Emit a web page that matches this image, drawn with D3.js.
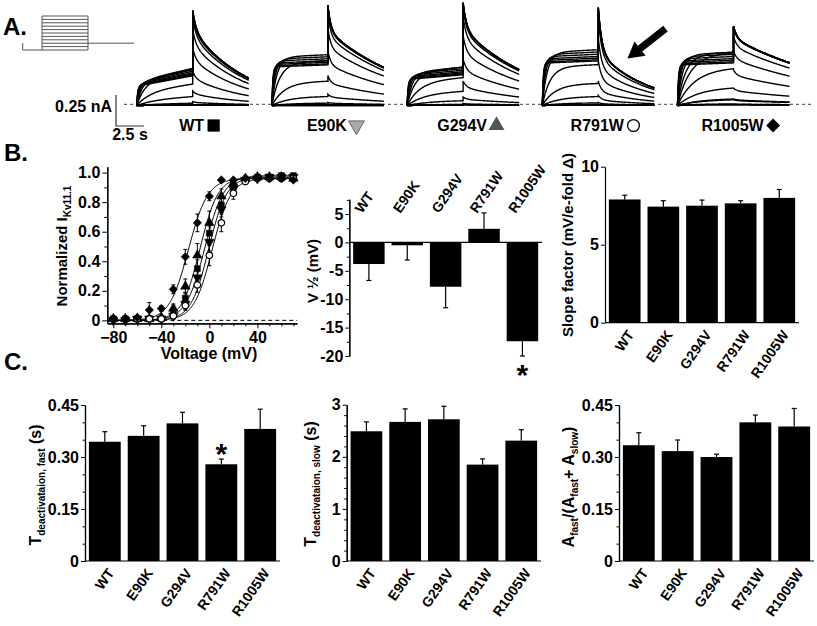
<!DOCTYPE html>
<html><head><meta charset="utf-8">
<script src="https://cdn.jsdelivr.net/npm/d3@7"></script>
<style>
body{margin:0;background:#fff}
svg{display:block;font-family:"Liberation Sans",Arial,Helvetica,sans-serif;font-weight:bold}
</style></head><body>
<svg id="c" width="817" height="626"></svg>
<script>
// ---------------- DATA ----------------
const groups = ["WT","E90K","G294V","R791W","R1005W"];
const volts = [-80,-70,-60,-50,-40,-30,-20,-10,0,10,20,30,40,50,60,70];
const actWT    = [0.01,0.01,0.01,0.01,0.01,0.04,0.15,0.35,0.59,0.78,0.90,0.95,0.97,0.97,0.98,0.98];
const actE90K  = [0.00,0.00,0.01,0.01,0.01,0.03,0.11,0.29,0.53,0.75,0.89,0.95,0.96,0.97,0.97,0.97];
const actG294V = [0.01,0.01,0.01,0.01,0.02,0.08,0.23,0.44,0.66,0.84,0.93,0.96,0.97,0.97,0.97,0.96];
const actR791W = [0.01,0.01,0.01,0.01,0.01,0.03,0.10,0.24,0.44,0.66,0.86,0.94,0.96,0.96,0.96,0.96];
const actR1005W= [0.01,0.01,0.02,0.07,0.08,0.21,0.43,0.66,0.84,0.95,0.95,0.96,0.96,0.96,0.96,0.95];
const errWT    = [0.01,0.01,0.01,0.01,0.01,0.02,0.04,0.06,0.05,0.05,0.03,0.02,0.01,0.01,0.01,0.01];
const errE90K  = [0.01,0.01,0.01,0.01,0.01,0.02,0.04,0.06,0.06,0.05,0.03,0.02,0.01,0.01,0.01,0.01];
const errG294V = [0.01,0.01,0.01,0.01,0.01,0.03,0.05,0.08,0.08,0.05,0.03,0.02,0.01,0.01,0.01,0.01];
const errR791W = [0.01,0.01,0.01,0.01,0.01,0.02,0.03,0.05,0.07,0.06,0.04,0.02,0.01,0.01,0.01,0.01];
const errR1005W= [0.01,0.01,0.01,0.05,0.02,0.03,0.05,0.06,0.03,0.01,0.01,0.01,0.01,0.01,0.01,0.01];
const fitTop   = [0.98,0.97,0.97,0.96,0.96];

const vHalf    = [-3.8,-0.5,-7.8,2.4,-17.4];
const vHalfErr = [2.9,2.6,3.7,2.8,2.6];
const slope    = [7.9,7.44,7.5,7.65,8.0];
const slopeErr = [0.27,0.38,0.36,0.17,0.54];
const tauFast    = [0.344,0.361,0.397,0.279,0.381];
const tauFastErr = [0.029,0.029,0.032,0.015,0.057];
const tauSlow    = [2.49,2.67,2.72,1.85,2.31];
const tauSlowErr = [0.18,0.25,0.25,0.11,0.21];
const aFast    = [0.334,0.317,0.300,0.400,0.388];
const aFastErr = [0.036,0.032,0.008,0.021,0.052];

// current traces (panel A), nA and seconds
const tracePeak    = [0.77,0.81,0.83,0.79,0.64];
const stepPlateau  = [0.30,0.41,0.31,0.45,0.43];
const stepCreep    = [0.35,0.05,0.15,0.05,0.05];
const tailFastFrac = [0.20,0.25,0.25,0.45,0.15];
const tailFastTau  = [0.30,0.25,0.30,0.30,0.30];
const tailSlowTau  = [4.9,7.35,6.56,4.48,11.0];
const actTau   = [2,2,2,2,2,1.8,1.5,1.1,0.7,0.45,0.3,0.2,0.15,0.12,0.1,0.08];
const stepRect = [1,1,1,1,1,1,1,1,1,1,0.96,0.92,0.88,0.85,0.82,0.8];
const holdingCurrent = -0.01;
const protocolSteps = [-80,-65,-50,-35,-20,-5,10,25,40,55,70];
const holdV = -80, tailV = -50;

const actData = [actWT,actE90K,actG294V,actR791W,actR1005W];
const errData = [errWT,errE90K,errG294V,errR791W,errR1005W];

// ---------------- DRAW ----------------
const svg = d3.select("#c");
const FS = 16;

function txt(x,y,s,size,anchor){
  return svg.append("text").attr("x",x).attr("y",y).text(s)
    .style("font-size",size+"px").attr("text-anchor",anchor||"start");
}
txt(3,35,"A.",24); txt(4,161,"B.",24); txt(4,370,"C.",24);

// ---- Panel A: protocol ----
const pt = d3.scaleLinear().domain([-2.1,10]).range([22.7,134]);
const pv = d3.scaleLinear().domain([-80,70]).range([50,16]);
const pg = svg.append("g").attr("stroke","#555").attr("stroke-width",1).attr("fill","none");
pg.append("line").attr("x1",pt(-2.1)).attr("x2",pt(-2.1)).attr("y1",pv(holdV)-7).attr("y2",pv(holdV));
pg.append("line").attr("x1",pt(-2.1)).attr("x2",pt(0)).attr("y1",pv(holdV)).attr("y2",pv(holdV));
protocolSteps.forEach(v=>{
  pg.append("line").attr("x1",pt(0)).attr("x2",pt(5)).attr("y1",pv(v)).attr("y2",pv(v));
});
pg.append("line").attr("x1",pt(0)).attr("x2",pt(0)).attr("y1",pv(holdV)).attr("y2",pv(d3.max(protocolSteps)));
pg.append("line").attr("x1",pt(5)).attr("x2",pt(5)).attr("y1",pv(holdV)).attr("y2",pv(d3.max(protocolSteps)));
pg.append("line").attr("x1",pt(5)).attr("x2",pt(10)).attr("y1",pv(tailV)).attr("y2",pv(tailV));

// ---- Panel A: traces ----
const gBand = d3.scaleBand().domain(groups).range([136.7,812.7]);
const tx = d3.scaleLinear().domain([0,10]).range([0,112]);
const yI = d3.scaleLinear().domain([0,0.25]).range([104.3,73.3]);

svg.append("line").attr("x1",124).attr("x2",812).attr("y1",yI(0)).attr("y2",yI(0))
  .attr("stroke","#666").attr("stroke-width",1.2).attr("stroke-dasharray","3,3");

const line = d3.line();
groups.forEach((g,gi)=>{
  const x0 = gBand(g);
  const act = actData[gi], maxA = d3.max(act);
  const tg = svg.append("g").attr("fill","none").attr("stroke","#000").attr("stroke-width",1.4);
  act.forEach((a,i)=>{
    const tailPk = tracePeak[gi]*a/maxA;
    const stepEnd = stepPlateau[gi]*Math.min(1,a/0.6)*stepRect[i];
    const pts = [];
    for(let k=0;k<=100;k++){
      const t = k*0.05;
      const creep = 1 - stepCreep[gi] + stepCreep[gi]*t/5;
      pts.push([x0+tx(t), yI(holdingCurrent + stepEnd*(1-Math.exp(-t/actTau[i]))*creep)]);
    }
    for(let k=0;k<=100;k++){
      const t = k*0.05, f = tailFastFrac[gi];
      const v = tailPk*(f*Math.exp(-t/tailFastTau[gi]) + (1-f)*Math.exp(-t/tailSlowTau[gi]));
      pts.push([x0+tx(5+t), yI(holdingCurrent + v)]);
    }
    tg.append("path").attr("d",line(pts));
  });
  // label with symbol
  const cx = x0 + tx(5) + 7.5;
  const lab = txt(0,131,g,16,"start");
  const w = lab.node().getComputedTextLength();
  const symW = 15, total = w + 2 + symW;
  const sx = cx - total/2;
  lab.attr("x",sx);
  const scx = sx + w + 2 + symW/2, scy = 125.5;
  const sym = svg.append("path").attr("transform",`translate(${scx},${scy})`);
  if(gi===0) sym.attr("d",d3.symbol(d3.symbolSquare,150)()).attr("fill","#000");
  if(gi===1) sym.attr("d",d3.symbol(d3.symbolTriangle,110)()).attr("transform",`translate(${scx},${scy}) rotate(180)`).attr("fill","#aaa").attr("stroke","#666");
  if(gi===2) sym.attr("d",d3.symbol(d3.symbolTriangle,110)()).attr("fill","#555");
  if(gi===3) sym.attr("d",d3.symbol(d3.symbolCircle,110)()).attr("fill","#fff").attr("stroke","#000").attr("stroke-width",1.3);
  if(gi===4) sym.attr("d",d3.symbol(d3.symbolSquare,95)()).attr("transform",`translate(${scx},${scy}) rotate(45)`).attr("fill","#000");
});

// scale bar
const sbx = 116, sby = yI(-0.175);
svg.append("path").attr("d",`M${sbx},${sby-(yI(0)-yI(0.25))}V${sby}H${sbx+tx(2.5)}`)
  .attr("fill","none").attr("stroke","#333").attr("stroke-width",1.2);
txt(112,112,"0.25 nA",16,"end");
txt(sbx+tx(1.25),140,"2.5 s",16,"middle");

// arrow
{
  const x0 = gBand("R791W");
  const tip = [x0+tx(7.6), yI(0.37)], tail = [x0+tx(11.0), yI(0.61)];
  const dx = tip[0]-tail[0], dy = tip[1]-tail[1], L = Math.hypot(dx,dy);
  const ux = dx/L, uy = dy/L, nx = -uy, ny = ux;
  const hl = 16, hw = 9, sw = 3.6;
  const bx = tip[0]-ux*hl, by = tip[1]-uy*hl;
  const P = [[tail[0]+nx*sw,tail[1]+ny*sw],[bx+nx*sw,by+ny*sw],[bx+nx*hw,by+ny*hw],tip,
             [bx-nx*hw,by-ny*hw],[bx-nx*sw,by-ny*sw],[tail[0]-nx*sw,tail[1]-ny*sw]];
  svg.append("path").attr("d","M"+P.map(p=>p.join(",")).join("L")+"Z").attr("fill","#000");
}

// ---- Panel B left: activation ----
{
  const xV = d3.scaleLinear().domain([-85,73]).range([107.3,297]);
  const yN = d3.scaleLinear().domain([-0.02,1.04]).range([323.3,166.7]);
  const g = svg.append("g");
  g.append("line").attr("x1",xV(-85)).attr("x2",xV(73)).attr("y1",yN(0)).attr("y2",yN(0))
    .attr("stroke","#000").attr("stroke-dasharray","4,3").attr("stroke-width",1);
  g.append("g").attr("transform","translate(107.3,0)")
    .call(d3.axisLeft(yN).tickValues([0,0.2,0.4,0.6,0.8,1.0]).tickFormat(d=>d===0?"0":d.toFixed(1)).tickSize(5).tickSizeOuter(0).tickPadding(2));
  g.append("g").attr("transform","translate(107.3,0)")
    .call(d3.axisLeft(yN).tickValues([0.1,0.3,0.5,0.7,0.9]).tickFormat("").tickSize(3).tickSizeOuter(0));
  g.append("g").attr("transform","translate(0,323.3)")
    .call(d3.axisBottom(xV).tickValues([-80,-40,0,40]).tickSize(5).tickSizeOuter(0).tickPadding(3));
  g.append("g").attr("transform","translate(0,323.3)")
    .call(d3.axisBottom(xV).tickValues([-70,-60,-50,-30,-20,-10,10,20,30,50,60,70]).tickFormat("").tickSize(3).tickSizeOuter(0));
  g.selectAll(".tick text").style("font-size",FS+"px").attr("fill","#000");
  g.selectAll(".domain").attr("stroke","#000").attr("stroke-width",1.2);

  const fl = d3.line().x(d=>xV(d[0])).y(d=>yN(d[1]));
  groups.forEach((gname,gi)=>{
    const pts = d3.range(-85,73.01,0.5).map(v=>[v, fitTop[gi]/(1+Math.exp((vHalf[gi]-v)/slope[gi]))]);
    g.append("path").attr("d",fl(pts)).attr("fill","none").attr("stroke","#000").attr("stroke-width",1);
  });
  groups.forEach((gname,gi)=>{
    const act = actData[gi], err = errData[gi];
    volts.forEach((v,i)=>{
      const cx = xV(v), e = err[i];
      if(e>0.015){
        g.append("line").attr("x1",cx).attr("x2",cx).attr("y1",yN(act[i]-e)).attr("y2",yN(act[i]+e)).attr("stroke","#000");
        [act[i]-e,act[i]+e].forEach(yy=>g.append("line").attr("x1",cx-2).attr("x2",cx+2).attr("y1",yN(yy)).attr("y2",yN(yy)).attr("stroke","#000"));
      }
    });
  });
  const sym = [d3.symbol(d3.symbolSquare,36)(), d3.symbol(d3.symbolTriangle,40)(), d3.symbol(d3.symbolTriangle,40)(), d3.symbol(d3.symbolCircle,34)(), d3.symbol(d3.symbolSquare,36)()];
  groups.forEach((gname,gi)=>{
    const act = actData[gi];
    volts.forEach((v,i)=>{
      const rot = gi===1?180:(gi===4?45:0);
      g.append("path").attr("d",sym[gi]).attr("transform",`translate(${xV(v)},${yN(act[i])}) rotate(${rot})`)
        .attr("fill",gi===3?"#fff":"#000").attr("stroke","#000").attr("stroke-width",gi===3?1.2:0.5);
    });
  });
  const yl = svg.append("text").attr("transform","translate(67,246) rotate(-90)").attr("text-anchor","middle").style("font-size","15px");
  yl.append("tspan").text("Normalized I");
  yl.append("tspan").text("Kv11.1").style("font-size","10px").attr("dy",4);
  txt(209,359,"Voltage (mV)",16,"middle");
}

// ---- bar panels ----
function barPanel(o){
  const x = d3.scaleBand().domain(groups).range([o.x0,o.x1]).paddingInner(0.18).paddingOuter(0.1);
  const y = d3.scaleLinear().domain(o.dom).range([o.yb,o.yt]);
  const g = svg.append("g");
  groups.forEach((d,i)=>{
    const v = o.vals[i], e = o.errs[i]*(v<0?-1:1), cx = x(d)+x.bandwidth()/2;
    g.append("line").attr("x1",cx).attr("x2",cx).attr("y1",y(v)).attr("y2",y(v+e)).attr("stroke","#000").attr("stroke-width",1.2);
    g.append("line").attr("x1",cx-2.5).attr("x2",cx+2.5).attr("y1",y(v+e)).attr("y2",y(v+e)).attr("stroke","#000").attr("stroke-width",1.2);
    g.append("rect").attr("x",x(d)).attr("width",x.bandwidth())
      .attr("y",y(Math.max(0,v))).attr("height",Math.abs(y(v)-y(0))).attr("fill","#000");
  });
  g.append("line").attr("x1",o.x0).attr("x2",o.x1).attr("y1",y(0)).attr("y2",y(0)).attr("stroke","#000").attr("stroke-width",1.2);
  g.append("g").attr("transform",`translate(${o.x0},0)`)
    .call(d3.axisLeft(y).tickValues(o.ticks).tickFormat(o.fmt).tickSize(4).tickSizeOuter(0).tickPadding(2));
  if(o.minor) g.append("g").attr("transform",`translate(${o.x0},0)`)
    .call(d3.axisLeft(y).tickValues(o.minor).tickFormat("").tickSize(2.5).tickSizeOuter(0));
  g.selectAll(".tick text").style("font-size",FS+"px").attr("fill","#000");
  g.selectAll(".domain").attr("stroke","#000").attr("stroke-width",1.2);
  groups.forEach(d=>{
    const cx = x(d)+x.bandwidth()/2;
    if(o.top){
      g.append("text").attr("transform",`translate(${cx-7},214) rotate(-55)`).text(d).style("font-size","14px");
    } else {
      g.append("text").attr("transform",`translate(${cx+10},${o.yb+12}) rotate(-55)`).attr("text-anchor","end").text(d).style("font-size","14px");
    }
  });
  return {x,y,g};
}
function yLab(x,y,parts,size){
  const t = svg.append("text").attr("transform",`translate(${x},${y}) rotate(-90)`).attr("text-anchor","middle").style("font-size",(size||16)+"px");
  let sub=false;
  parts.forEach(p=>{
    const s = t.append("tspan").text(p[0]);
    if(p[1] && !sub){ s.style("font-size","10px").attr("dy",4); sub=true; }
    else if(p[1]){ s.style("font-size","10px"); }
    else if(sub){ s.attr("dy",-4); sub=false; }
  });
}

// B middle: V1/2
{
  const p = barPanel({x0:349.3,x1:542,dom:[-20,7.6],yb:356,yt:199.3,vals:vHalf,errs:vHalfErr,
    ticks:[5,0,-5,-10,-15,-20],minor:[7.5,2.5,-2.5,-7.5,-12.5,-17.5],fmt:d=>String(d),top:true});
  const cx = p.x("R1005W")+p.x.bandwidth()/2;
  svg.append("text").attr("x",cx).attr("y",385).attr("text-anchor","middle").text("*").style("font-size","30px");
  yLab(318,271,[["V ½ (mV)"]],15);
}
// B right: slope
{
  barPanel({x0:605,x1:799,dom:[0,10],yb:322.7,yt:166.7,vals:slope,errs:slopeErr,
    ticks:[0,5,10],fmt:d=>String(d),top:false});
  yLab(573,245,[["Slope factor (mV/e-fold Δ)"]],15);
}
// C left
{
  const p = barPanel({x0:85,x1:280,dom:[0,0.45],yb:561,yt:405,vals:tauFast,errs:tauFastErr,
    ticks:[0,0.15,0.30,0.45],minor:[0.05,0.1,0.2,0.25,0.35,0.4],fmt:d=>d===0?"0":d.toFixed(2),top:false});
  const cx = p.x("R791W")+p.x.bandwidth()/2;
  svg.append("text").attr("x",cx).attr("y",464).attr("text-anchor","middle").text("*").style("font-size","30px");
  yLab(41,485,[["T"],["deactivataion, fast",1],[" (s)"]],16);
}
// C middle
{
  barPanel({x0:346.7,x1:541,dom:[0,3],yb:561,yt:404.7,vals:tauSlow,errs:tauSlowErr,
    ticks:[0,1,2,3],minor:[0.2,0.4,0.6,0.8,1.2,1.4,1.6,1.8,2.2,2.4,2.6,2.8],fmt:d=>String(d),top:false});
  yLab(316,484,[["T"],["deactivataion, slow",1],[" (s)"]],16);
}
// C right
{
  barPanel({x0:619,x1:814,dom:[0,0.45],yb:561,yt:405,vals:aFast,errs:aFastErr,
    ticks:[0,0.15,0.30,0.45],minor:[0.05,0.1,0.2,0.25,0.35,0.4],fmt:d=>d===0?"0":d.toFixed(2),top:false});
  yLab(574,487,[["A"],["fast",1],["/(A"],["fast",1],["+ A"],["slow",1],[")"]],16);
}
</script>
</body></html>
